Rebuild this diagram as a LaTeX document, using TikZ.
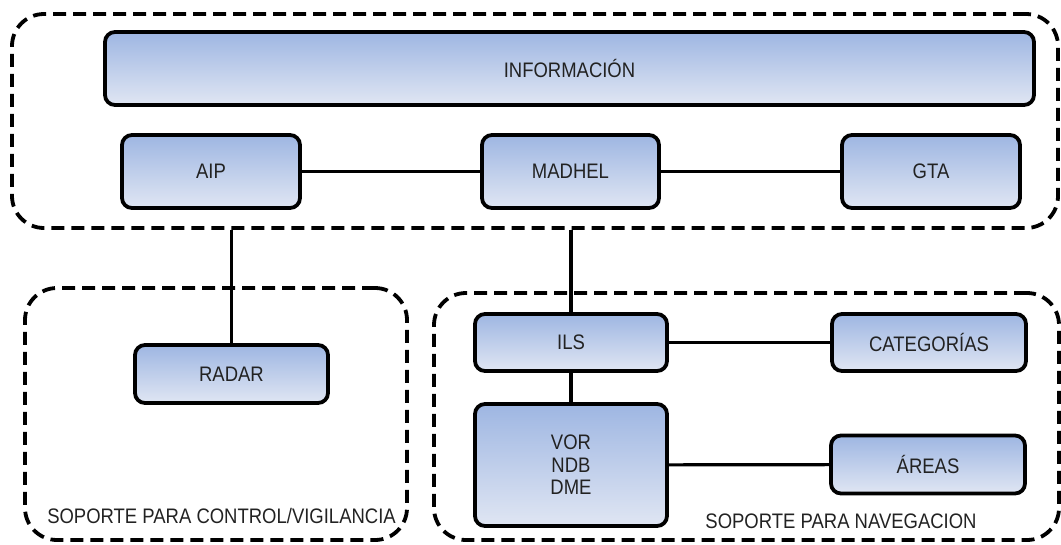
\documentclass[tikz,border=0pt]{standalone}
\usepackage{fontspec}
\setmainfont{Liberation Sans}[FakeStretch=0.88]
\definecolor{boxtop}{RGB}{158,182,226}
\definecolor{boxbot}{RGB}{224,230,243}
\definecolor{txt}{RGB}{34,34,34}
\tikzset{
  container/.style={draw=black, line width=3.8pt, dash pattern=on 13pt off 7pt, rounded corners=32pt, inner sep=0pt},
  blockbox/.style={draw=black, line width=3.8pt, rounded corners=10pt, top color=boxtop, bottom color=boxbot, text=txt, inner sep=0pt, align=center, font=\fontsize{21}{22.5}\selectfont},
  link/.style={draw=black, line width=3.2pt},
  caption/.style={text=txt, inner sep=0pt, font=\fontsize{21}{22.5}\selectfont}
}
\begin{document}
\begin{tikzpicture}[x=1pt,y=-1pt]
\useasboundingbox (0,0) rectangle (1061,544);
% containers
\node[container, minimum width=1046pt, minimum height=214pt] (topc) at (535,121) {};
\node[container, minimum width=382pt, minimum height=252pt] (leftc) at (216,414) {};
\node[container, minimum width=625pt, minimum height=247pt] (rightc) at (746.5,416.5) {};
% boxes
\node[blockbox, minimum width=929pt, minimum height=73pt] (info) at (569.5,68.5) {INFORMACIÓN};
\node[blockbox, minimum width=178pt, minimum height=73pt] (aip) at (211,171.5) {AIP};
\node[blockbox, minimum width=177pt, minimum height=73pt] (madhel) at (570.5,171.5) {MADHEL};
\node[blockbox, minimum width=178pt, minimum height=73pt] (gta) at (931,171.5) {GTA};
\node[blockbox, minimum width=193pt, minimum height=58pt] (radar) at (231.5,374) {RADAR};
\node[blockbox, minimum width=192pt, minimum height=57pt] (ils) at (571,342.5) {ILS};
\node[blockbox, minimum width=194pt, minimum height=57pt] (cat) at (929,342.5) {CATEGORÍAS};
\node[blockbox, minimum width=192pt, minimum height=122pt] (vor) at (571,465) {VOR\\NDB\\DME};
\node[blockbox, minimum width=194pt, minimum height=58pt] (areas) at (928,464.5) {ÁREAS};
% captions
\node[caption] (capl) at (221.5,516) {SOPORTE PARA CONTROL/VIGILANCIA};
\node[caption] (capr) at (841,521) {SOPORTE PARA NAVEGACION};
% connectors
\draw[link] (aip) -- (madhel);
\draw[link] (madhel) -- (gta);
\draw[link] (topc.south -| radar.north) -- (radar.north);
\draw[link] (topc.south -| ils.north) -- (ils.north);
\draw[link] (ils) -- (cat);
\draw[link] (ils) -- (vor);
\draw[link] (vor) -- (areas);
\end{tikzpicture}
\end{document}
